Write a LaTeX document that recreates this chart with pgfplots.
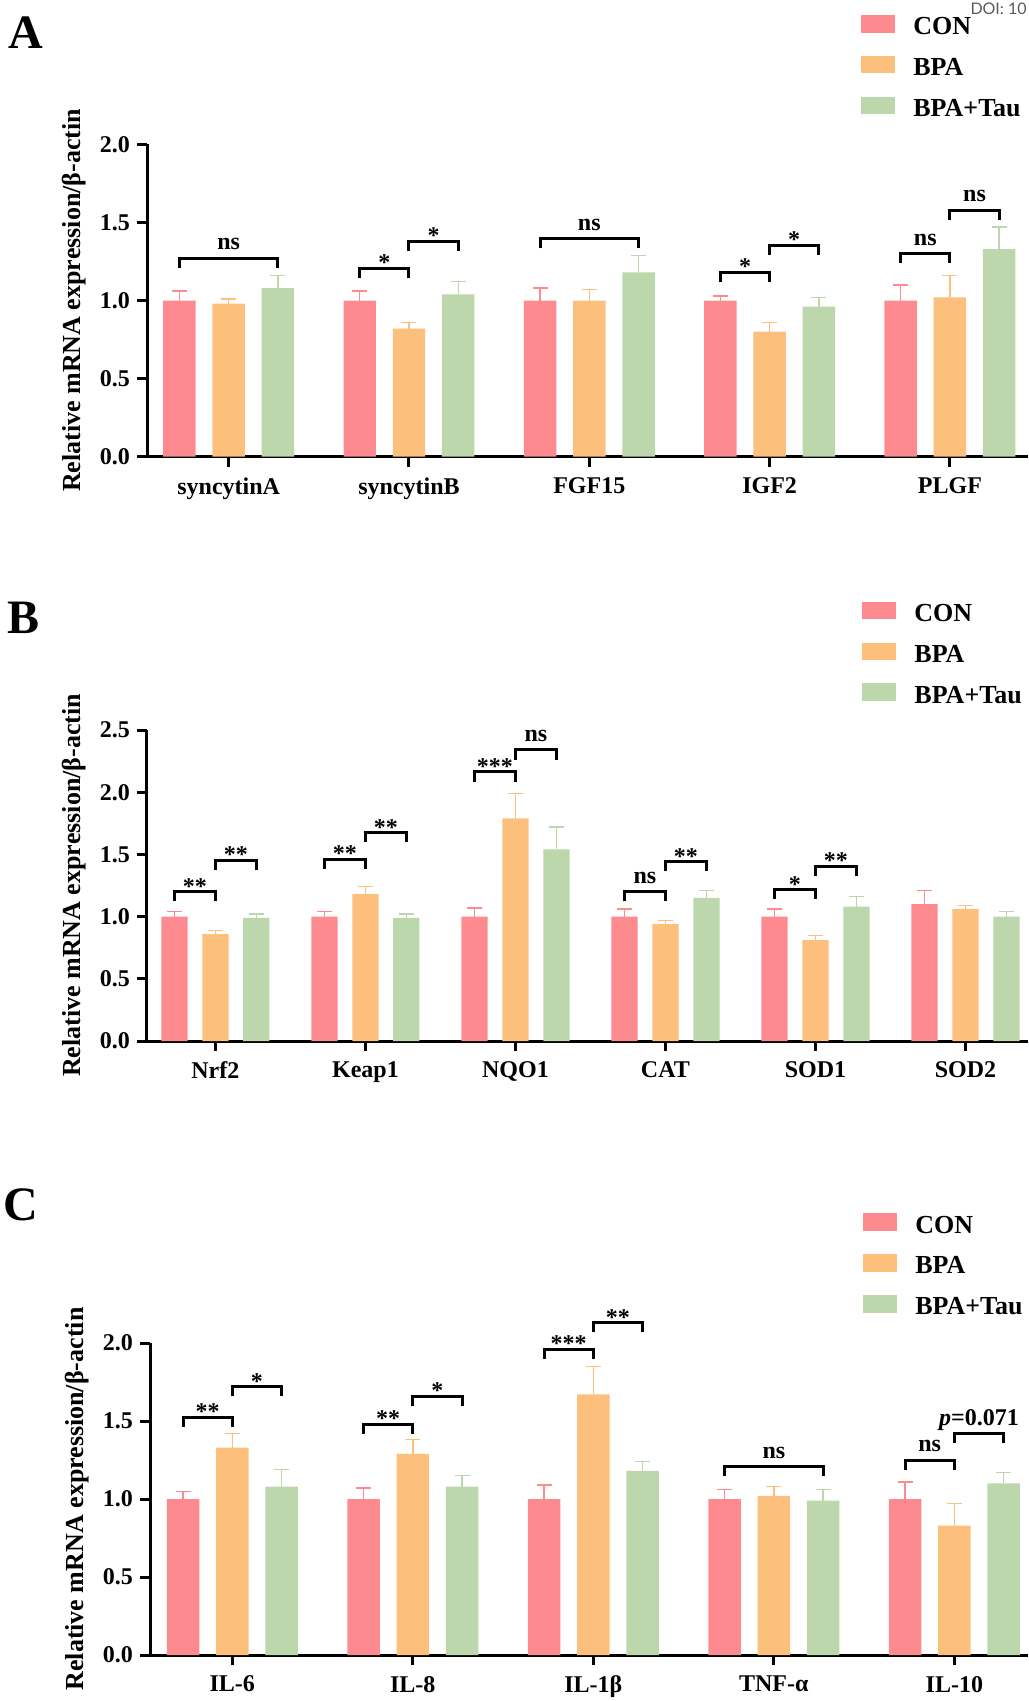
\documentclass[border=0pt]{standalone}
\usepackage{fontspec}
\setmainfont{Liberation Serif}
\newfontfamily\latofont{Lato}
\usepackage{pgfplots}
\usepackage{pgfplotstable}
\pgfplotsset{compat=1.18}

\definecolor{conc}{HTML}{FD8A8E}
\definecolor{bpac}{HTML}{FDBF7C}
\definecolor{tauc}{HTML}{BCD7AB}

\newcommand{\bigf}{\bfseries\fontsize{12}{14}\selectfont}
\newcommand{\legf}{\bfseries\fontsize{13}{15}\selectfont}

% panel A: syncytinA, syncytinB, FGF15, IGF2, PLGF
\pgfplotstableread{
x con conerr bpa bpaerr tau tauerr
0 1.00 0.06 0.98 0.03 1.08 0.08
1 1.00 0.06 0.82 0.04 1.04 0.08
2 1.00 0.08 1.00 0.07 1.18 0.11
3 1.00 0.03 0.80 0.06 0.96 0.06
4 1.00 0.10 1.02 0.14 1.33 0.14
}\tabA
% panel B: Nrf2, Keap1, NQO1, CAT, SOD1, SOD2
\pgfplotstableread{
x con conerr bpa bpaerr tau tauerr
0 1.00 0.04 0.86 0.03 0.99 0.03
1 1.00 0.04 1.18 0.06 0.99 0.03
2 1.00 0.07 1.79 0.20 1.54 0.18
3 1.00 0.06 0.94 0.03 1.15 0.06
4 1.00 0.06 0.81 0.04 1.08 0.08
5 1.10 0.11 1.06 0.03 1.00 0.04
}\tabB
% panel C: IL-6, IL-8, IL-1b, TNF-a, IL-10
\pgfplotstableread{
x con conerr bpa bpaerr tau tauerr
0 1.00 0.05 1.33 0.09 1.08 0.11
1 1.00 0.07 1.29 0.09 1.08 0.07
2 1.00 0.09 1.67 0.18 1.18 0.06
3 1.00 0.06 1.02 0.06 0.99 0.07
4 1.00 0.11 0.83 0.14 1.10 0.07
}\tabC

\pgfplotsset{
  panel/.style={
    scale only axis, clip=false, anchor=south west,
    axis x line=bottom, axis y line=left,
    axis line style={line width=1.5pt,-},
    tick style={line width=1.5pt, black},
    major tick length=5pt, tick align=outside,
    ymin=0,
    yticklabel style={/pgf/number format/.cd, fixed, fixed zerofill, precision=1, assume math mode=true},
    tick label style={font=\bigf},
    xticklabel style={yshift=-2pt},
    ylabel={Relative mRNA expression/β-actin},
    ylabel style={font=\legf, at={(axis description cs:-0.083,0.5)}, anchor=center},
    legend style={draw=none, fill=none, inner sep=0pt, outer sep=0pt, anchor=north west,
      font=\legf, row sep=9pt, column sep=9.3pt, nodes={inner sep=0pt}},
    legend cell align=left,
  },
  mybar/.style={ybar, bar width=#1, bar shift=0pt, draw=none, forget plot},
  errs/.style={error bars/.cd, y dir=plus, y explicit,
    error bar style={line width=0.7pt, #1},
    error mark options={rotate=90, line width=0.7pt, mark size=3.75pt, #1}},
}

\newcommand{\brk}[5]{%
  \draw[line width=1.5pt, line join=miter] ([yshift=-4.8pt]axis cs:#1,#3) -- (axis cs:#1,#3)
    -- node[midway, anchor=base, yshift=#5, inner sep=0pt, font=\bigf, text=black]{#4} (axis cs:#2,#3)
    -- ([yshift=-4.8pt]axis cs:#2,#3);}

\newcommand{\legimgs}{%
  \addlegendimage{legend image code/.code={\fill[conc] (0pt,-2.15pt) rectangle (16.5pt,6.15pt);}}
  \addlegendentry{CON}
  \addlegendimage{legend image code/.code={\fill[bpac] (0pt,-2.15pt) rectangle (16.5pt,6.15pt);}}
  \addlegendentry{BPA}
  \addlegendimage{legend image code/.code={\fill[tauc] (0pt,-2.15pt) rectangle (16.5pt,6.15pt);}}
  \addlegendentry{BPA+Tau}
}

\begin{document}
\begin{tikzpicture}
\useasboundingbox (0,0) rectangle (514pt,-850.5pt);

\node[anchor=base east, font=\latofont\fontsize{8}{8}\selectfont, text=black!65, inner sep=0pt] at (513.5pt,-7.5pt) {DOI: 10};
\node[anchor=base, font=\bfseries\fontsize{24}{24}\selectfont] at (12.7pt,-24.2pt) {A};
\node[anchor=base, font=\bfseries\fontsize{24}{24}\selectfont] at (12pt,-316.7pt) {B};
\node[anchor=base, font=\bfseries\fontsize{24}{24}\selectfont] at (10.3pt,-610pt) {C};

% ---------------- Panel A
\begin{axis}[panel, at={(73.5pt,-228.25pt)}, width=440.5pt, height=156pt,
  xmin=-0.453, xmax=4.433, ymax=2, ytick={0,0.5,1,1.5,2},
  xtick={0,1,2,3,4}, xticklabels={syncytinA,syncytinB,FGF15,IGF2,PLGF},
  legend style={at={(axis description cs:0.8104,1.415)}}]
\legimgs
\addplot[mybar=0.18, fill=conc, errs=conc] table[x expr=\thisrow{x}-0.273, y=con, y error=conerr] {\tabA};
\addplot[mybar=0.18, fill=bpac, errs=bpac] table[x expr=\thisrow{x}, y=bpa, y error=bpaerr] {\tabA};
\addplot[mybar=0.18, fill=tauc, errs=tauc] table[x expr=\thisrow{x}+0.273, y=tau, y error=tauerr] {\tabA};
\brk{-0.273}{0.273}{1.27}{ns}{4.3pt}
\brk{0.727}{1}{1.205}{*}{-1.2pt}
\brk{1}{1.273}{1.38}{*}{-1.2pt}
\brk{1.727}{2.273}{1.395}{ns}{4.3pt}
\brk{2.727}{3}{1.18}{*}{-1.2pt}
\brk{3}{3.273}{1.355}{*}{-1.2pt}
\brk{3.727}{4}{1.30}{ns}{4.3pt}
\brk{4}{4.273}{1.58}{ns}{4.3pt}
\end{axis}

% ---------------- Panel B
\begin{axis}[panel, at={(73.5pt,-520.5pt)}, width=440.5pt, height=155.5pt,
  xmin=-0.456, xmax=5.417, ymax=2.5, ytick={0,0.5,1,1.5,2,2.5},
  xtick={0,1,2,3,4,5}, xticklabels={Nrf2,Keap1,NQO1,CAT,SOD1,SOD2},
  legend style={at={(axis description cs:0.8116,1.4125)}}]
\legimgs
\addplot[mybar=0.175, fill=conc, errs=conc] table[x expr=\thisrow{x}-0.273, y=con, y error=conerr] {\tabB};
\addplot[mybar=0.175, fill=bpac, errs=bpac] table[x expr=\thisrow{x}, y=bpa, y error=bpaerr] {\tabB};
\addplot[mybar=0.175, fill=tauc, errs=tauc] table[x expr=\thisrow{x}+0.273, y=tau, y error=tauerr] {\tabB};
\brk{-0.273}{0}{1.20}{**}{-1.2pt}
\brk{0}{0.273}{1.455}{**}{-1.2pt}
\brk{0.727}{1}{1.46}{**}{-1.2pt}
\brk{1}{1.273}{1.674}{**}{-1.2pt}
\brk{1.727}{2}{2.163}{***}{-1.2pt}
\brk{2}{2.273}{2.34}{ns}{4.3pt}
\brk{2.727}{3}{1.20}{ns}{4.3pt}
\brk{3}{3.273}{1.44}{**}{-1.2pt}
\brk{3.727}{4}{1.217}{*}{-1.2pt}
\brk{4}{4.273}{1.404}{**}{-1.2pt}
\end{axis}

% ---------------- Panel C
\begin{axis}[panel, at={(75pt,-827.5pt)}, width=439pt, height=156pt,
  xmin=-0.456, xmax=4.408, ymax=2, ytick={0,0.5,1,1.5,2},
  xtick={0,1,2,3,4}, xticklabels={IL-6,IL-8,IL-1β,TNF-α,IL-10},
  legend style={at={(axis description cs:0.812,1.4157)}}]
\legimgs
\addplot[mybar=0.18, fill=conc, errs=conc] table[x expr=\thisrow{x}-0.273, y=con, y error=conerr] {\tabC};
\addplot[mybar=0.18, fill=bpac, errs=bpac] table[x expr=\thisrow{x}, y=bpa, y error=bpaerr] {\tabC};
\addplot[mybar=0.18, fill=tauc, errs=tauc] table[x expr=\thisrow{x}+0.273, y=tau, y error=tauerr] {\tabC};
\brk{-0.273}{0}{1.524}{**}{-1.2pt}
\brk{0}{0.273}{1.72}{*}{-1.2pt}
\brk{0.727}{1}{1.48}{**}{-1.2pt}
\brk{1}{1.273}{1.66}{*}{-1.2pt}
\brk{1.727}{2}{1.96}{***}{-1.2pt}
\brk{2}{2.273}{2.13}{**}{-1.2pt}
\brk{2.727}{3.273}{1.207}{ns}{4.3pt}
\brk{3.727}{4}{1.25}{ns}{4.3pt}
\brk{4}{4.273}{1.419}{\textit{p}=0.071}{4.3pt}
\end{axis}
\end{tikzpicture}
\end{document}
